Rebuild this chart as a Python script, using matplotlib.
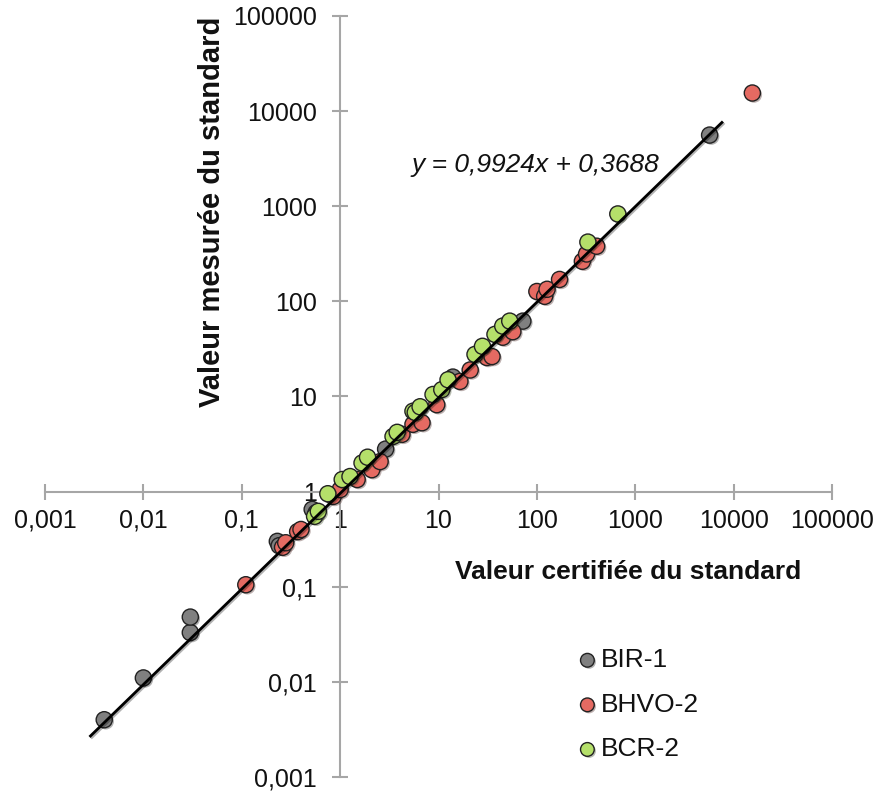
import matplotlib
matplotlib.use("Agg")
import matplotlib.pyplot as plt
import matplotlib.patheffects as pe

plt.rcParams['font.family'] = ['Liberation Sans', 'DejaVu Sans']

# ---- data ----
bir1_x = [0.004, 0.010, 0.030, 0.030, 0.23, 0.24, 0.52, 0.57, 2.9, 14, 72, 5700]
bir1_y = [0.004, 0.011, 0.033, 0.048, 0.30, 0.27, 0.65, 0.60, 2.8, 16, 62, 5600]

bhvo2_x = [0.11, 0.26, 0.28, 0.37, 0.40, 0.85, 1.0, 1.49, 2.1, 2.55, 4.25, 5.5, 6.8,
           9.6, 16.5, 21, 31, 35, 45, 57, 100, 120, 127, 170, 290, 320, 405, 15500]
bhvo2_y = [0.105, 0.26, 0.29, 0.38, 0.40, 0.89, 1.05, 1.34, 1.7, 2.07, 4.0, 5.1, 5.3,
           8.2, 14.4, 19, 25.7, 26.3, 42, 48, 127, 113, 134, 170, 264, 315, 380, 15500]

bcr2_x = [0.55, 0.60, 0.75, 1.05, 1.26, 1.67, 1.9, 3.45, 3.8, 5.5, 5.8, 6.5,
          8.8, 10.8, 12.5, 23.5, 28, 37.5, 45, 53, 330, 665]
bcr2_y = [0.55, 0.62, 0.95, 1.34, 1.44, 2.0, 2.3, 3.8, 4.2, 7.0, 6.8, 7.8,
          10.5, 11.8, 15, 27.7, 33.7, 45, 55, 62, 420, 830]

trend_x = [0.0029, 7600]
trend_y = [0.0027, 7600]

tick_vals = [0.001, 0.01, 0.1, 1, 10, 100, 1000, 10000, 100000]
tick_labels = ['0,001', '0,01', '0,1', '1', '10', '100', '1000', '10000', '100000']

series = [
    ('BIR-1', bir1_x, bir1_y, '#808080'),
    ('BHVO-2', bhvo2_x, bhvo2_y, '#E56A62'),
    ('BCR-2', bcr2_x, bcr2_y, '#B5E06A'),
]

fig = plt.figure(figsize=(8.84, 8.0), dpi=100)
ax = fig.add_axes([45/884, 1-777/800, (832-45)/884, (777-16)/800])
ax.set_xscale('log')
ax.set_yscale('log')
ax.set_xlim(0.001, 100000)
ax.set_ylim(0.001, 100000)

shadow = [pe.SimplePatchShadow(offset=(1.2, -1.2), alpha=0.35, rho=0.3), pe.Normal()]
for name, xs, ys, col in series:
    sc = ax.scatter(xs, ys, s=135, c=col, edgecolors='#222222', linewidths=1.0,
                    zorder=3, label=name)
    sc.set_path_effects(shadow)

ln, = ax.plot(trend_x, trend_y, color='black', lw=2.0, zorder=4)
ln.set_path_effects([pe.SimpleLineShadow(offset=(1, -1), alpha=0.3), pe.Normal()])

for s in ['top', 'right']:
    ax.spines[s].set_visible(False)
ax.spines['left'].set_position(('data', 1))
ax.spines['bottom'].set_position(('data', 1))
for s in ['left', 'bottom']:
    ax.spines[s].set_color('#a6a6a6')
    ax.spines[s].set_linewidth(1.5)

ax.set_xticks(tick_vals)
ax.set_xticklabels(tick_labels)
ax.set_yticks(tick_vals)
ax.set_yticklabels(tick_labels)
ax.minorticks_off()
ax.tick_params(axis='both', which='major', direction='inout', length=11, width=1.5,
               color='#a6a6a6', labelsize=18, labelcolor='#111111')
ax.tick_params(axis='x', pad=7)
ax.tick_params(axis='y', pad=11)
ax.patch.set_visible(False)

fig.text(535/884, 1-165/800, 'y = 0,9924x + 0,3688',
         ha='center', va='center', fontsize=19, style='italic', color='#111111')

fig.text(628/884, 1-572/800, 'Valeur certifiée du standard', ha='center', va='center',
         fontsize=19, fontweight='bold', color='#111111')
fig.text(212/884, 1-212/800, 'Valeur mesurée du standard', ha='center', va='center',
         fontsize=21, fontweight='bold', rotation=90, color='#111111')

leg = ax.legend(loc='upper left', bbox_to_anchor=(561/884, 1-635/800),
                bbox_transform=fig.transFigure, frameon=False, fontsize=19,
                markerscale=0.85, handletextpad=0.0, handlelength=1.0,
                labelspacing=0.78, borderpad=0)
for t in leg.get_texts():
    t.set_color('#111111')

fig.savefig('out.png', dpi=100)
